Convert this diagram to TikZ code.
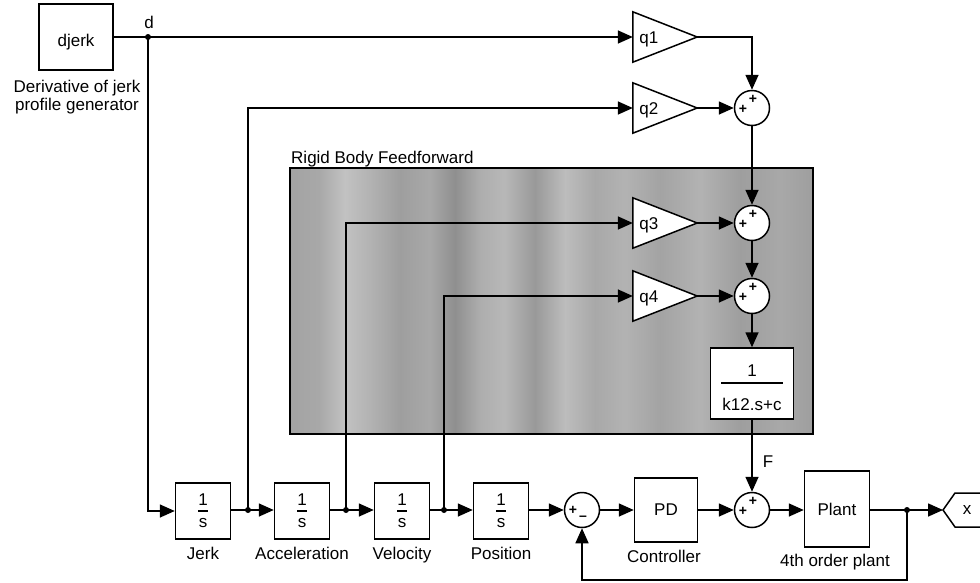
\documentclass[tikz,border=0pt]{standalone}
\usepackage{fontspec}
\setmainfont{Liberation Sans}
\usetikzlibrary{arrows.meta,calc}
\pgfdeclarehorizontalshading{rbshade}{100bp}{color(0bp)=(black!36); color(25bp)=(black!36); color(27.85bp)=(black!34); color(30.25bp)=(black!24); color(32.65bp)=(black!30); color(35.5bp)=(black!38); color(38.4bp)=(black!34); color(40.75bp)=(black!44); color(43.15bp)=(black!32); color(45.5bp)=(black!28); color(48.4bp)=(black!40); color(51.3bp)=(black!26); color(54.15bp)=(black!34); color(57bp)=(black!30); color(60.35bp)=(black!36); color(64.2bp)=(black!30); color(68bp)=(black!38); color(71.85bp)=(black!34); color(75bp)=(black!38); color(100bp)=(black!38)}
\tikzset{
  every node/.style={font=\fontsize{17}{17}\selectfont, inner sep=0pt},
  blkline/.style={line width=1.5pt},
  blk/.style={draw, blkline, fill=white},
  gainb/.style={minimum width=64pt, minimum height=50pt},
  sumc/.style={circle, draw, blkline, fill=white, minimum size=35pt},
  sgn/.style={font=\fontsize{14}{14}\selectfont\bfseries},
  ln/.style={line width=1.6pt},
  sig/.style={line width=1.6pt, -{Triangle[length=15pt,width=13pt]}},
  lbl/.style={anchor=base},
}
\begin{document}
\begin{tikzpicture}[x=1pt, y=-1pt]
\useasboundingbox (0,0) rectangle (980,582);
% Rigid body subsystem area
\path[shading=rbshade] (290,168) rectangle (813,434);
\draw[blkline] (290,168) rectangle (813,434);
\node[anchor=base west] (rbtitle) at (291,163) {Rigid Body Feedforward};

% source
\node[blk, minimum width=74pt, minimum height=66pt] (djerk) at (76,37) {};
\node[lbl] (djerkt) at (76,46) {djerk};
\node[lbl] (dlab1) at (77,92) {Derivative of jerk};
\node[lbl] (dlab2) at (77,110) {profile generator};
\coordinate (dj) at (148,37);
\node[lbl] (dname) at (149,28) {d};

% gains
\foreach \n/\y in {q1/37, q2/108, q3/223, q4/296} {
  \node[gainb] (\n) at (665,\y) {};
  \draw[blk] (\n.north west) -- (\n.east) -- (\n.south west) -- cycle;
  \node[lbl] (\n t) at ($(\n.west)+(16,6)$) {\n};
}

% sums
\foreach \n/\y in {s1/108, s3/223, s4/296, s5/510} {
  \node[sumc] (\n) at (752,\y) {};
  \node[sgn] (\n a) at ($(\n)+(1,-9)$) {+};
  \node[sgn] (\n b) at ($(\n)+(-9,1)$) {+};
}
\node[sumc] (s2) at (582,510) {};
\node[sgn] (s2a) at ($(s2)+(-9,0)$) {+};
\node[sgn] (s2b) at ($(s2)+(1,8)$) {\textendash};

% transfer function
\node[blk, minimum width=83pt, minimum height=71pt] (tf) at (752,383.5) {};
\node (tfn) at (752,371) {1};
\node (tfd) at (752,404) {k12.s+c};
\draw[line width=1.6pt] (721,383) -- (783,383);

% integrators
\foreach \n/\x/\t in {jerk/203/Jerk, acc/302/Acceleration, vel/402/Velocity, pos/501/Position} {
  \node[blk, minimum width=55pt, minimum height=56pt] (\n) at (\x,511) {};
  \node (\n n) at (\x,500) {1};
  \node (\n d) at (\x,523) {s};
  \draw[line width=1.5pt] (\x-5,511) -- (\x+5,511);
  \node[lbl] (\n l) at (\x,559) {\t};
}

% controller and plant
\node[blk, minimum width=63pt, minimum height=64pt] (pd) at (666,510) {PD};
\node[lbl] (pdl) at (664,562) {Controller};
\node[blk, minimum width=65pt, minimum height=76pt] (plant) at (837,509) {Plant};
\node[lbl] (plantl) at (835,566) {4th order plant};
\node[lbl] (fl) at (768,467) {F};

% outport
\coordinate (xo) at (943,510);
\draw[blkline] (981,493) -- (955,493) -- (xo) -- (955,527) -- (981,527);
\node (xt) at (967,510) {x};

% taps
\coordinate (t1) at (248,510);
\coordinate (t2) at (346,510);
\coordinate (t3) at (444,510);
\coordinate (jo) at (907,510);

% connectors
\draw[ln] (djerk.east |- dj) -- (dj);
\draw[sig] (dj) -- (q1.west);
\draw[sig] (dj) |- (jerk.west);
\draw[sig] (q1.east) -| (s1.north);
\draw[sig] (q2.east) -- (s1.west);
\draw[sig] (s1.south) -- (s3.north);
\draw[sig] (q3.east) -- (s3.west);
\draw[sig] (s3.south) -- (s4.north);
\draw[sig] (q4.east) -- (s4.west);
\draw[sig] (s4.south) -- (tf.north);
\draw[sig] (tf.south) -- (s5.north);
\draw[sig] (jerk.east |- t1) -- (acc.west |- t1);
\draw[sig] (t1) |- (q2.west);
\draw[sig] (acc.east |- t2) -- (vel.west |- t2);
\draw[sig] (t2) |- (q3.west);
\draw[sig] (vel.east |- t3) -- (pos.west |- t3);
\draw[sig] (t3) |- (q4.west);
\draw[sig] (pos.east |- s2) -- (s2.west);
\draw[sig] (s2.east) -- (pd.west);
\draw[sig] (pd.east) -- (s5.west);
\draw[sig] (s5.east) -- (plant.west |- s5);
\draw[ln] (plant.east |- jo) -- (jo);
\draw[sig] (jo) -- (xo);
\draw[sig] (jo) -- ++(0,70) -| (s2.south);

% junction dots
\foreach \c in {dj, t1, t2, t3, jo} \fill (\c) circle (3pt);
\end{tikzpicture}
\end{document}
